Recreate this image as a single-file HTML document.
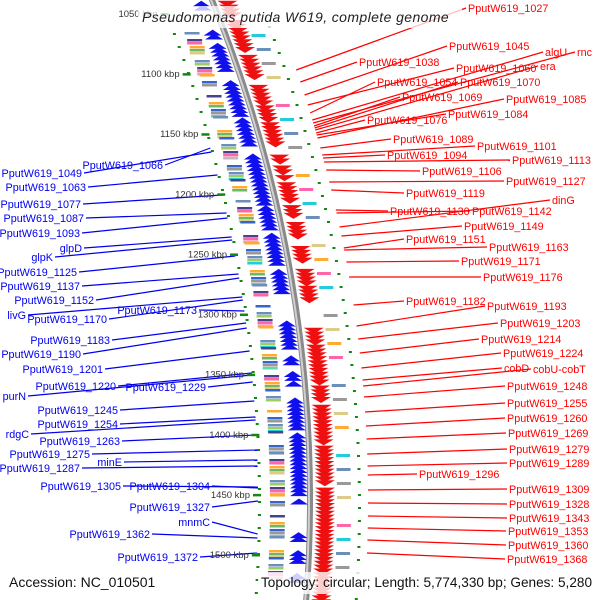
<!DOCTYPE html>
<html><head><meta charset="utf-8"><style>
html,body{margin:0;padding:0;background:#fff;}
svg{display:block;font-family:"Liberation Sans",sans-serif;}
</style></head><body>
<svg id="map" width="600" height="600" viewBox="0 0 600 600" xmlns="http://www.w3.org/2000/svg">
<g id="feat"></g>
<g id="lines"></g>
<g id="labels"></g>
<g id="ticks"></g>
<rect x="138" y="6" width="324" height="22" fill="#fff" fill-opacity="0.75"/>
<text x="142" y="22" font-size="14" font-style="italic" fill="#222" letter-spacing="0.4">Pseudomonas putida W619, complete genome</text>
<text x="9" y="587" font-size="14" fill="#111">Accession: NC_010501</text>
<rect x="258" y="572" width="340" height="22" fill="#fff" fill-opacity="0.8"/>
<text x="261" y="587" font-size="13.6" fill="#111">Topology: circular; Length: 5,774,330 bp; Genes: 5,280</text>
</svg>
<script>
// kb ticks
const tickKb = [1050,1100,1150,1200,1250,1300,1350,1400,1450,1500];
const tickLabels = ["1050 kbp","1100 kbp","1150 kbp","1200 kbp","1250 kbp","1300 kbp","1350 kbp","1400 kbp","1450 kbp","1500 kbp"];
// gene clusters in kb [start,end]
const forwardGenes = [[1039,1044],[1063,1069],[1074,1094],[1105,1133],[1136,1158],[1166,1205],[1209,1226],[1232,1257],[1262,1280],[1305,1326],[1334,1340],[1347,1353],[1355,1356],[1369,1392],[1398,1448],[1453,1455],[1481,1487],[1496,1503],[1515,1520]];
const reverseGenes = [[1039,1049],[1055,1080],[1084,1103],[1109,1122],[1126,1137],[1140,1159],[1167,1172],[1176,1180],[1184,1187],[1190,1205],[1209,1217],[1223,1234],[1243,1255],[1262,1272],[1276,1288],[1311,1321],[1325,1336],[1338,1355],[1359,1371],[1375,1404],[1409,1440],[1444,1540]];
// gene labels: [name, labelY, targetY, textX]
const rightLabels = [["PputW619_1027",8,70,468],["PputW619_1038",62,82,359],["PputW619_1045",46,95,449],["PputW619_1060",68,105,456],["PputW619_1054",82,113,377],["algU",52,120,545],["rnc",52,123,577],["PputW619_1069",97,126,402],["PputW619_1070",82,128,460],["era",66,130,540],["PputW619_1076",120,133,367],["PputW619_1084",114,135,448],["PputW619_1085",99,138,506],["PputW619_1089",139,148,393],["PputW619_1094",155,158,387],["PputW619_1101",146,155,477],["PputW619_1106",171,170,422],["PputW619_1113",160,162,512],["PputW619_1119",193,190,406],["PputW619_1127",181,182,506],["PputW619_1130",211,210,390],["PputW619_1142",211,213,472],["dinG",200,227,552],["PputW619_1149",226,236,464],["PputW619_1151",239,248,406],["PputW619_1163",247,250,489],["PputW619_1171",261,262,461],["PputW619_1176",277,277,483],["PputW619_1182",301,305,406],["PputW619_1193",306,326,487],["PputW619_1203",323,339,500],["PputW619_1214",339,353,481],["PputW619_1224",353,368,503],["cobD",368,380,504],["cobU-cobT",369,386,533],["PputW619_1248",386,397,507],["PputW619_1255",403,412,507],["PputW619_1260",418,426,507],["PputW619_1269",433,439,508],["PputW619_1279",449,454,509],["PputW619_1289",463,466,509],["PputW619_1296",474,475,419],["PputW619_1309",489,490,509],["PputW619_1328",504,503,509],["PputW619_1343",518,516,509],["PputW619_1353",531,528,508],["PputW619_1360",545,540,508],["PputW619_1368",559,553,507]];
const leftLabels = [["PputW619_1066",165,148,163],["PputW619_1049",173,152,82],["PputW619_1063",187,175,86],["PputW619_1077",204,195,81],["PputW619_1087",218,213,84],["PputW619_1093",233,218,80],["glpD",248,237,82],["glpK",257,240,53],["PputW619_1125",272,256,77],["PputW619_1137",286,274,80],["PputW619_1152",300,278,94],["livG",315,297,26],["PputW619_1170",319,300,107],["PputW619_1173",310,311,197],["PputW619_1183",340,323,110],["PputW619_1190",354,328,81],["PputW619_1201",369,351,103],["PputW619_1220",386,373,116],["PputW619_1229",387,382,206],["purN",396,375,26],["PputW619_1245",410,401,118],["PputW619_1254",424,417,118],["rdgC",434,420,29],["PputW619_1263",441,435,120],["PputW619_1275",454,450,90],["minE",462,460,122],["PputW619_1287",468,466,80],["PputW619_1305",486,487,121],["PputW619_1304",486,488,210],["PputW619_1327",507,501,210],["mnmC",522,534,210],["PputW619_1362",534,538,150],["PputW619_1372",557,553,198]];

const NS="http://www.w3.org/2000/svg";
const CX=-1014, CY=500, R=1324;
function arcX(y){return CX+Math.sqrt(R*R-(y-CY)*(y-CY));}
function kbToY(kb){return 14+(kb-1050)*1.2022;}
function mk(tag,attrs,parent){const e=document.createElementNS(NS,tag);for(const k in attrs)e.setAttribute(k,attrs[k]);parent.appendChild(e);return e;}
const feat=document.getElementById('feat'), lines=document.getElementById('lines'), labels=document.getElementById('labels'), ticks=document.getElementById('ticks');

let d="";for(let y=-5;y<=605;y+=5){d+=(y===-5?"M":"L")+arcX(y).toFixed(1)+","+y+" ";}
const bb1=mk('path',{d:d,stroke:'#8a8a8a','stroke-width':6,fill:'none'},feat);


const bb2=mk('path',{d:d,stroke:'#d0d0d0','stroke-width':2,fill:'none',transform:'translate(-1,0)'},feat);



const boxColors=["#6a8fb8","#9ecf5a","#22ccdd","#444488","#ff66aa","#bbbbbb","#ffaa33","#66bb66","#ddcc88","#3366cc","#999999","#55ddaa"];
for(let y=32,i=0;y<575;y+=7,i++){
  if((i%5)===3) continue;
  const x=arcX(y);
  const n=1+(i%3);
  for(let j=0;j<n;j++){
    const b=mk('rect',{x:x-40,y:y+j*3,width:15,height:2.5,fill:boxColors[(i*3+j)%boxColors.length]},feat);
    
    
  }
  if(i%2===0){const b2=mk('rect',{x:x+27,y:y+2,width:14,height:3,fill:boxColors[(i*5+2)%boxColors.length]},feat);
    
    }
}
for(let y=20;y<600;y+=13){
  const x=arcX(y);
  const g1=mk('rect',{x:x-52,y:y,width:3,height:2,fill:'#118811'},feat);
  
  
  const g2=mk('rect',{x:x+48,y:y+6,width:3,height:2,fill:'#118811'},feat);
  
  
}
forwardGenes.forEach(g=>{
  for(let kb=g[0];kb<g[1];kb+=3.2){
    const y=kbToY(kb), x=arcX(y);
    const p=mk('polygon',{points:`${x-20},${y+6} ${x-11},${y} ${x-2},${y+6}`,fill:'#1010ee'},feat);
    
    
  }
});
reverseGenes.forEach(g=>{
  for(let kb=g[0];kb<g[1];kb+=3.2){
    const y=kbToY(kb), x=arcX(y);
    const p=mk('polygon',{points:`${x+5},${y} ${x+15},${y+6} ${x+25},${y}`,fill:'#ee1010'},feat);
    
    
  }
});
tickKb.forEach((kb,i)=>{
  const y=kbToY(kb), x=arcX(y);
  const t=mk('text',{x:x-60,y:y+3,'font-size':9.5,fill:'#333','text-anchor':'end'},ticks);
  t.textContent=tickLabels[i];
  
  
  const r=mk('rect',{x:x-57,y:y-1,width:8,height:2.5,fill:'#118811'},ticks);
  
  
});
rightLabels.forEach(l=>{
  const [name,ly,ty,lx]=l;
  const ln=mk('line',{x1:arcX(ty)+58,y1:ty,x2:lx-2,y2:ly,stroke:'#ff0000','stroke-width':1.2},lines);
  
  
  const t=mk('text',{x:lx,y:ly+4,'font-size':10.8,fill:'#ff0000'},labels);
  t.textContent=name;
  
  
});
leftLabels.forEach(l=>{
  const [name,ly,ty,lx]=l;
  const ln=mk('line',{x1:lx+2,y1:ly,x2:arcX(ty)-52,y2:ty,stroke:'#0000ee','stroke-width':1.2},lines);
  
  
  const t=mk('text',{x:lx,y:ly+4,'font-size':10.8,fill:'#0000ee','text-anchor':'end'},labels);
  t.textContent=name;
  
  
});
</script>
</body></html>
